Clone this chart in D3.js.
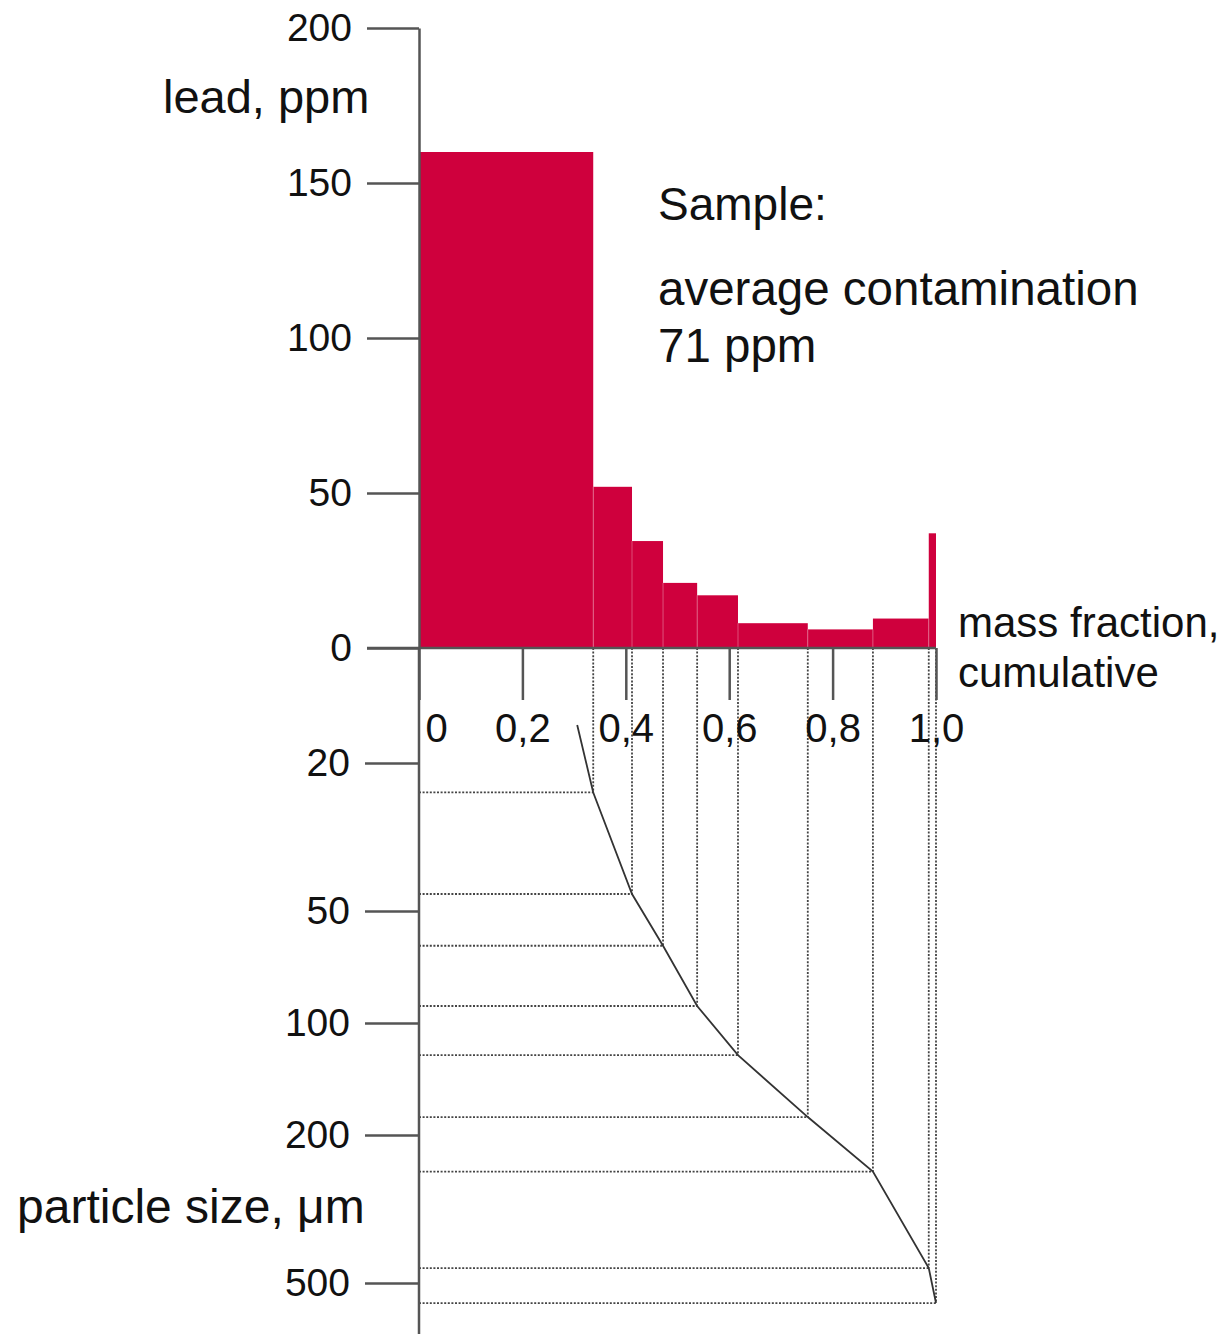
<!DOCTYPE html>
<html>
<head>
<meta charset="utf-8">
<script src="https://cdn.jsdelivr.net/npm/d3@7"></script>
<style>
    body { margin: 0; background: #fff; }
    svg text { font-family: "Liberation Sans", Arial, sans-serif; fill: #111; }
</style>
</head>
<body>
<svg id="chart" width="1229" height="1334"></svg>
<script>
// cumulative mass fraction at the edges of each size class
const massEdges = [0, 0.337, 0.412, 0.472, 0.538, 0.617, 0.752, 0.878, 0.986, 1.0];
// lead content of each class, ppm
const leadPpm = [160, 52, 34.5, 21, 17, 8, 6, 9.5, 37];
// particle size (um) reached at the upper edge of each class
const particleSize = [24, 45, 62, 90, 122, 179, 251, 456, 566];
// where the size curve begins
const curveStartFrac = 0.306;
const curveStartSize = 15.8;

const leadTicks = [0, 50, 100, 150, 200];
const sizeTicks = [20, 50, 100, 200, 500];
const fracTicks = [0, 0.2, 0.4, 0.6, 0.8, 1.0];
const fracTickLabels = ["0", "0,2", "0,4", "0,6", "0,8", "1,0"];

const svg = d3.select("svg#chart");
const axisColor = "#555";
const barColor = "#cf003d";

// scales
const x = d3.scaleLinear().domain([0, 1]).range([419, 936]);
const y = d3.scaleLinear().domain([0, 200]).range([648, 28]);
const ySize = d3.scaleLog().domain([20, 500]).range([763, 1283]);

// bars
const bars = leadPpm.map((v, i) => ({x0: massEdges[i], x1: massEdges[i + 1], v: v}));
svg.append("g")
    .selectAll("rect")
    .data(bars)
    .join("rect")
        .attr("x", d => x(d.x0))
        .attr("y", d => y(d.v))
        .attr("width", d => x(d.x1) - x(d.x0))
        .attr("height", d => y(0) - y(d.v))
        .attr("fill", barColor);

// faint separators between the bars
svg.append("g")
    .selectAll("line")
    .data(bars.slice(1))
    .join("line")
        .attr("x1", d => x(d.x0))
        .attr("x2", d => x(d.x0))
        .attr("y1", y(0))
        .attr("y2", (d, i) => y(Math.min(d.v, bars[i].v)))
        .attr("stroke", "rgba(255,255,255,0.3)")
        .attr("stroke-width", 1);

// size curve points
const curve = [{f: curveStartFrac, s: curveStartSize}]
    .concat(particleSize.map((s, i) => ({f: massEdges[i + 1], s: s})));
const links = curve.slice(1);

// dotted guides: down from the baseline and across from the size axis
const guides = svg.append("g")
    .attr("stroke", "#444")
    .attr("stroke-width", 1.8)
    .attr("stroke-dasharray", "2,1.6")
    .attr("fill", "none");
guides.selectAll("line.v")
    .data(links)
    .join("line")
        .attr("class", "v")
        .attr("x1", d => x(d.f)).attr("x2", d => x(d.f))
        .attr("y1", y(0)).attr("y2", d => ySize(d.s));
guides.selectAll("line.h")
    .data(links)
    .join("line")
        .attr("class", "h")
        .attr("x1", x(0)).attr("x2", d => x(d.f))
        .attr("y1", d => ySize(d.s)).attr("y2", d => ySize(d.s));

svg.append("path")
    .datum(curve)
    .attr("fill", "none")
    .attr("stroke", "#333")
    .attr("stroke-width", 1.8)
    .attr("d", d3.line().x(d => x(d.f)).y(d => ySize(d.s)));

// lead axis
const leadAxis = svg.append("g")
    .attr("transform", `translate(${x(0)},0)`)
    .attr("color", axisColor)
    .call(d3.axisLeft(y).tickValues(leadTicks).tickSize(52).tickSizeOuter(0).tickPadding(15));

// particle size axis (log), with its line running the full height
svg.append("line")
    .attr("x1", x(0)).attr("x2", x(0))
    .attr("y1", y(0)).attr("y2", 1334)
    .attr("stroke", axisColor)
    .attr("stroke-width", 2.5);
const sizeAxis = svg.append("g")
    .attr("transform", `translate(${x(0)},0)`)
    .attr("color", axisColor)
    .call(d3.axisLeft(ySize).tickValues(sizeTicks).tickFormat(d3.format("d")).tickSize(54).tickPadding(15));
sizeAxis.select(".domain").remove();

// mass fraction ticks below the baseline
const fracAxis = svg.append("g")
    .attr("transform", `translate(0,${y(0)})`)
    .attr("color", axisColor)
    .call(d3.axisBottom(x).tickValues(fracTicks).tickFormat((d, i) => fracTickLabels[i]).tickSize(52).tickPadding(14));
fracAxis.select(".domain")
    .attr("d", `M${x(0) - 52},0H${x(1)}`);
fracAxis.selectAll(".tick")
    .filter(d => d === 0)
    .select("text")
        .attr("text-anchor", "start")
        .attr("x", 6);

[leadAxis, sizeAxis, fracAxis].forEach(g => {
    g.selectAll("line, path").attr("stroke-width", 2.5);
    g.selectAll("text")
        .style("font-family", '"Liberation Sans", Arial, sans-serif')
        .attr("fill", "#111");
});
leadAxis.selectAll("text").style("font-size", "39px");
sizeAxis.selectAll("text").style("font-size", "39px");
fracAxis.selectAll("text").style("font-size", "40px");

// labels
const labels = [
    {t: "lead, ppm", x: 163, y: 113, s: 47},
    {t: "Sample:", x: 658, y: 220, s: 46},
    {t: "average contamination", x: 658, y: 305, s: 47.5},
    {t: "71 ppm", x: 658, y: 362, s: 47.5},
    {t: "mass fraction,", x: 958, y: 637, s: 42},
    {t: "cumulative", x: 958, y: 687, s: 42},
    {t: "particle size, \u03bcm", x: 17, y: 1223, s: 48}
];
svg.append("g")
    .selectAll("text")
    .data(labels)
    .join("text")
        .attr("x", d => d.x)
        .attr("y", d => d.y)
        .style("font-size", d => d.s + "px")
        .text(d => d.t);
</script>
</body>
</html>
